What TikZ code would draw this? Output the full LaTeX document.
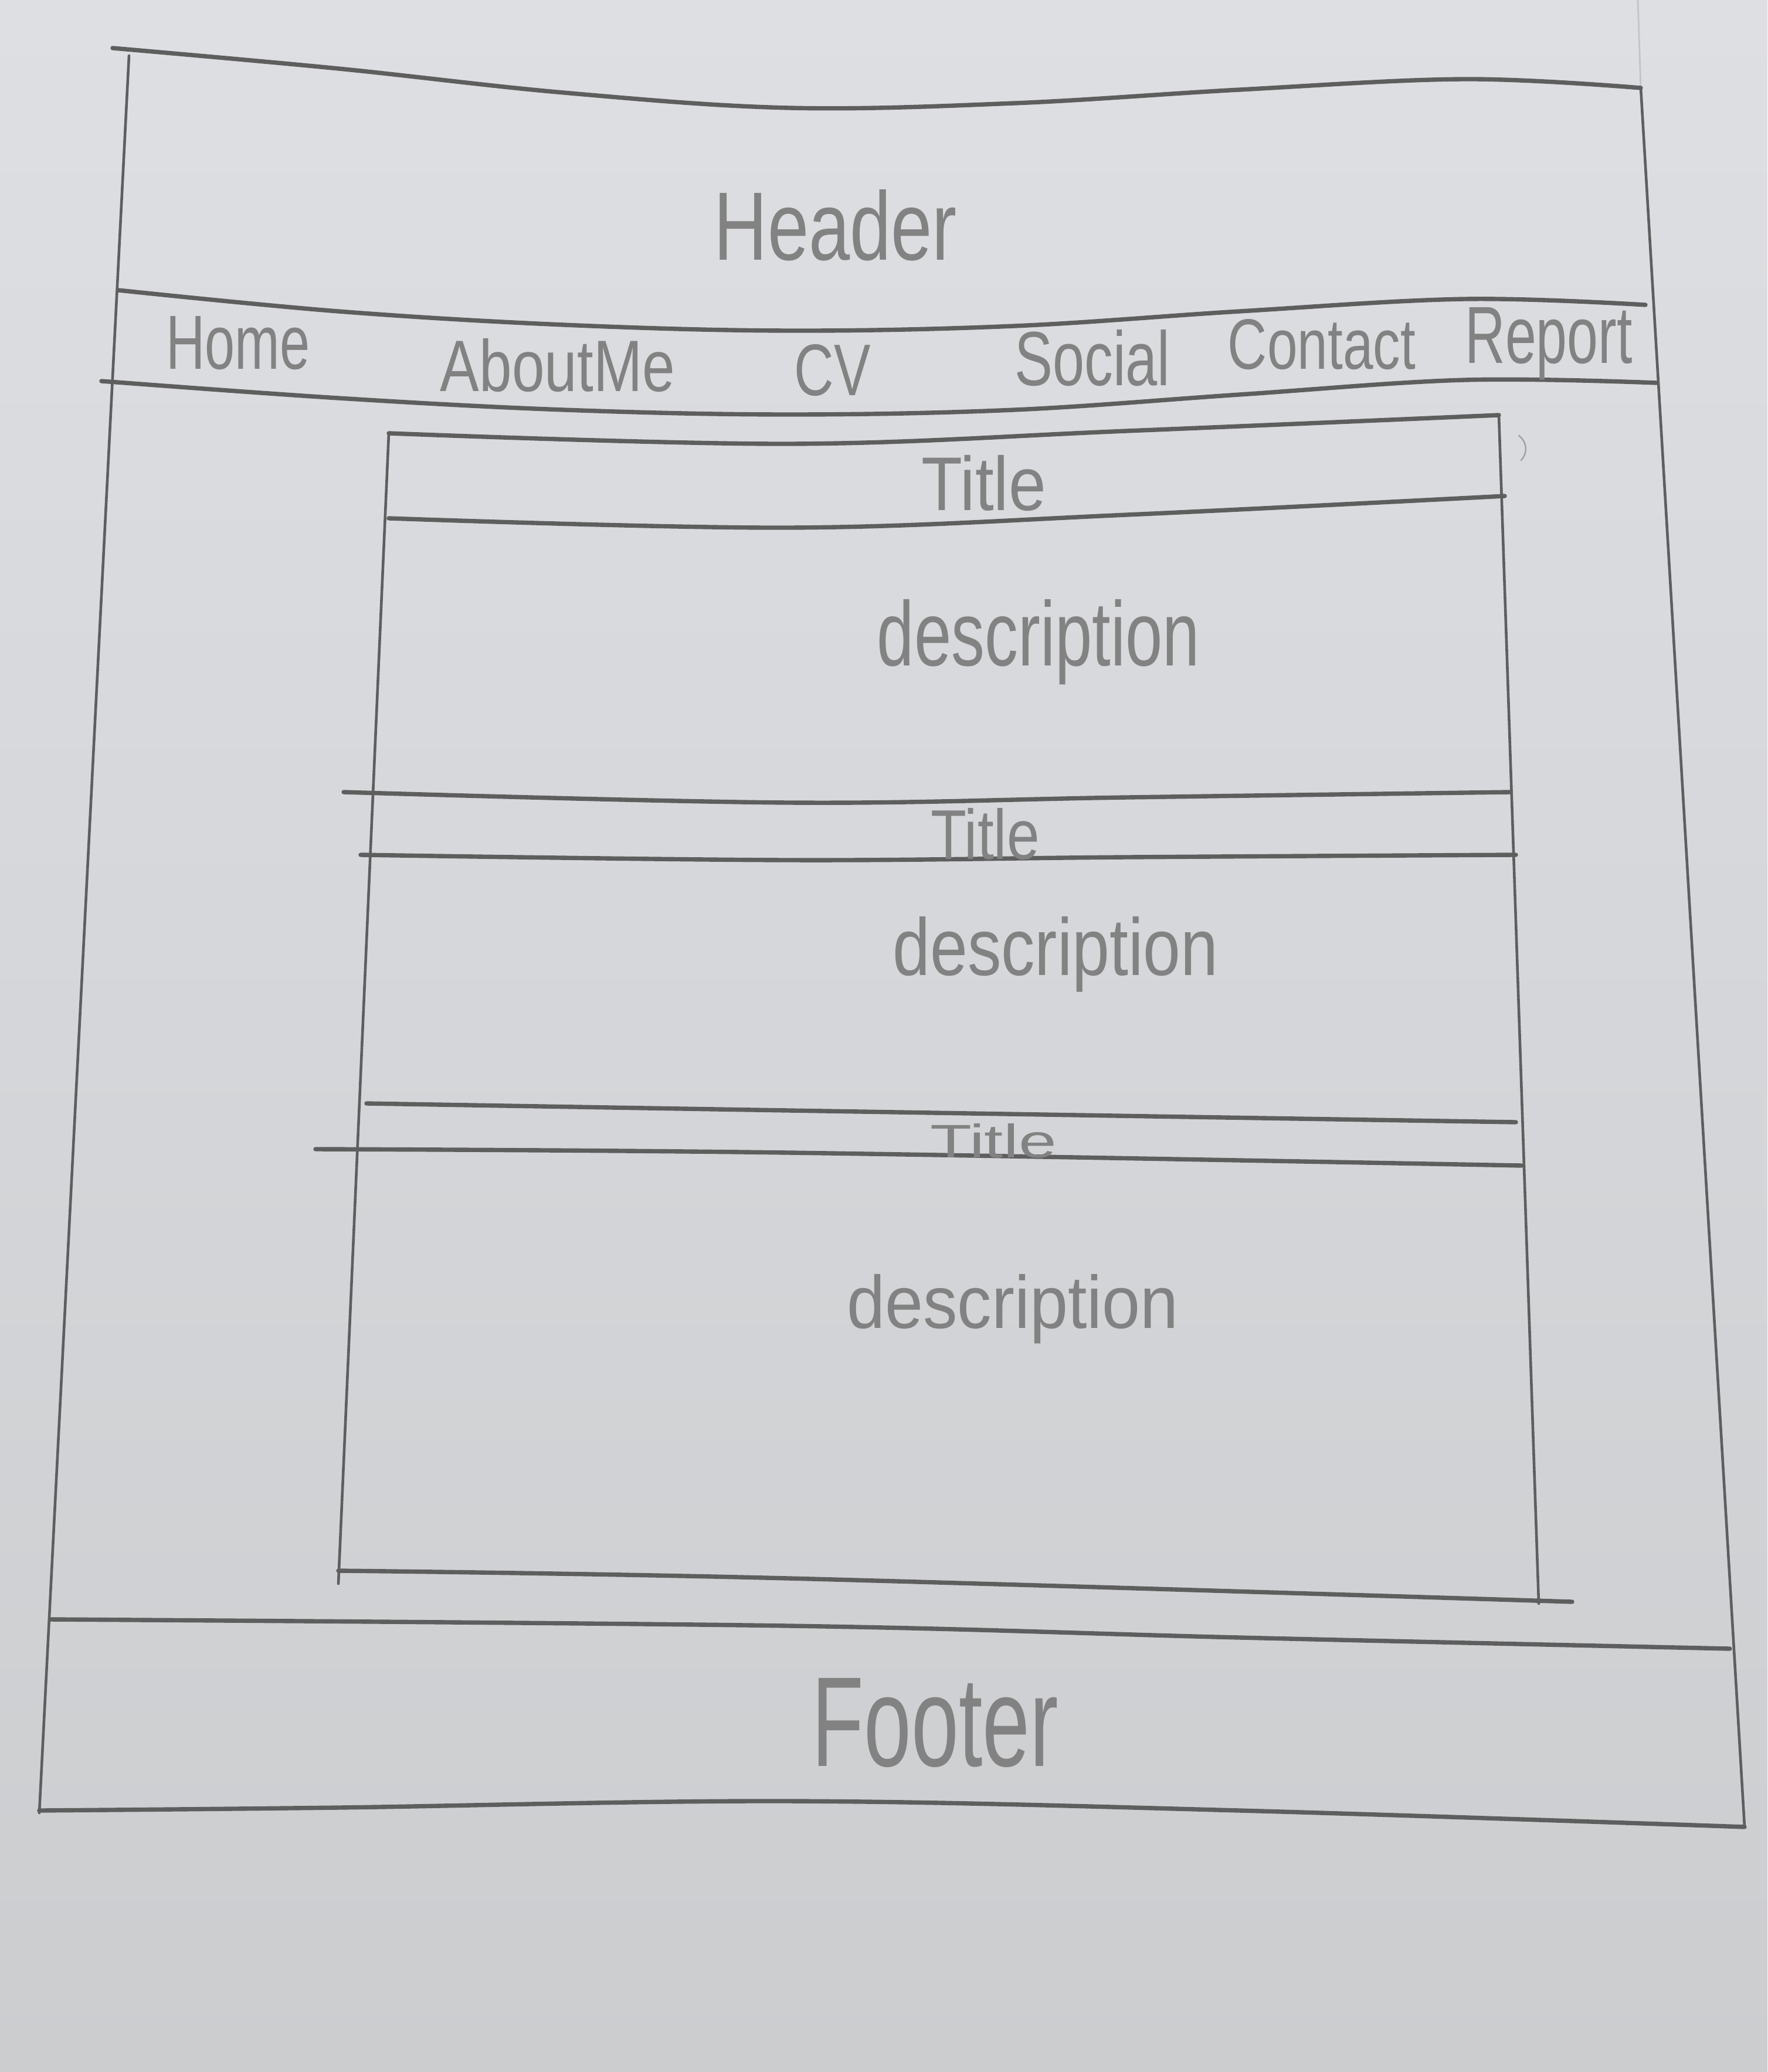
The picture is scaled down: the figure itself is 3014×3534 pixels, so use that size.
\documentclass[tikz,border=0pt]{standalone}
\usepackage{fontspec}
\usepackage{graphicx}
\setmainfont{Liberation Sans}

\definecolor{paperTop}{HTML}{DEDFE3}
\definecolor{paperBot}{HTML}{CBCDCF}
\definecolor{pencil}{HTML}{5E5E5E}
\definecolor{pencilText}{HTML}{828282}

% a word squeezed into a given width and height
\newcommand{\scribble}[3]{\resizebox{#1}{#2}{#3}}

\begin{document}
\begin{tikzpicture}[x=0.01cm, y=-0.01cm,
  rule/.style={draw=pencil, line width=2.1pt, line cap=round, line join=round},
  edge/.style={draw=pencil, line width=1.3pt, line cap=round},
  lbl/.style={anchor=base, inner sep=0pt, outer sep=0pt, text=pencilText}]

% paper
\shade[top color=paperTop, bottom color=paperBot] (0,0) rectangle (3014,3534);
\useasboundingbox (0,0) rectangle (3014,3534);

% outer page frame
\draw[rule] plot[smooth, tension=0.6] coordinates
  {(192,82) (577,117) (961,158) (1345,184) (1730,176) (2114,153) (2499,135) (2798,150)};
\draw[edge] (220,95) -- (67,3092);
\draw[edge] (2798,150) -- (2975,3116);
\draw[draw=pencil, line width=0.8pt, opacity=0.2] (2793,0) -- (2798,150);

% header / navigation bar separators
\draw[rule] plot[smooth, tension=0.6] coordinates
  {(202,495) (577,531) (961,554) (1345,564) (1730,556) (2114,531) (2499,510) (2806,520)};
\draw[rule] plot[smooth, tension=0.6] coordinates
  {(173,650) (577,679) (961,699) (1345,707) (1730,699) (2114,673) (2499,648) (2825,653)};

% content box
\draw[rule] plot[smooth, tension=0.6] coordinates
  {(663,739) (1345,757) (1922,735) (2556,708)};
\draw[edge] (663,739) -- (577,2701);
\draw[edge] (2556,708) -- (2624,2735);
\draw[rule] plot[smooth, tension=0.6] coordinates
  {(577,2679) (1345,2692) (2681,2732)};

% section separators
\draw[rule] plot[smooth, tension=0.6] coordinates
  {(663,884) (1345,900) (1922,878) (2566,846)};
\draw[rule] plot[smooth, tension=0.6] coordinates
  {(586,1351) (1345,1369) (1922,1360) (2575,1351)};
\draw[rule] plot[smooth, tension=0.6] coordinates
  {(615,1458) (1345,1467) (1922,1462) (2585,1458)};
\draw[rule] plot[smooth, tension=0.6] coordinates
  {(625,1882) (1345,1894) (2585,1914)};
\draw[rule] plot[smooth, tension=0.6] coordinates
  {(538,1960) (1345,1966) (2595,1988)};

% footer
\draw[rule] plot[smooth, tension=0.6] coordinates
  {(86,2762) (1345,2773) (2114,2793) (2950,2812)};
\draw[rule] plot[smooth, tension=0.6] coordinates
  {(67,3088) (577,3083) (1345,3072) (2114,3088) (2975,3116)};

% small stray stroke beside the content box
\draw[draw=pencil, line width=0.7pt, opacity=0.45, line cap=round]
  (2590,743) .. controls (2606,755) and (2604,775) .. (2594,785);

% labels
\node[lbl] (header)  at (1425,444)  {\scribble{4.14cm}{1.2cm}{Header}};

\node[lbl] (home)    at (406,630)   {\scribble{2.45cm}{0.9cm}{Home}};
\node[lbl] (about)   at (951,668)   {\scribble{4.0cm}{0.9cm}{AboutMe}};
\node[lbl] (cv)      at (1420,675)  {\scribble{1.3cm}{0.87cm}{CV}};
\node[lbl] (social)  at (1863,658)  {\scribble{2.65cm}{0.95cm}{Social}};
\node[lbl] (contact) at (2254,630)  {\scribble{3.2cm}{0.85cm}{Contact}};
\node[lbl] (report)  at (2641,620)  {\scribble{2.85cm}{0.95cm}{Report}};

\node[lbl] (title1)  at (1678,870)  {\scribble{2.12cm}{0.94cm}{Title}};
\node[lbl] (desc1)   at (1771,1135) {\scribble{5.5cm}{1.13cm}{description}};

\node[lbl] (title2)  at (1680,1465) {\scribble{1.85cm}{0.87cm}{Title}};
\node[lbl] (desc2)   at (1800,1663) {\scribble{5.55cm}{1.0cm}{description}};

\node[lbl] (title3)  at (1694,1974) {\scribble{2.15cm}{0.58cm}{Title}};
\node[lbl] (desc3)   at (1727,2265) {\scribble{5.65cm}{0.92cm}{description}};

\node[lbl] (footer)  at (1595,3012) {\scribble{4.2cm}{1.5cm}{Footer}};

\end{tikzpicture}
\end{document}
